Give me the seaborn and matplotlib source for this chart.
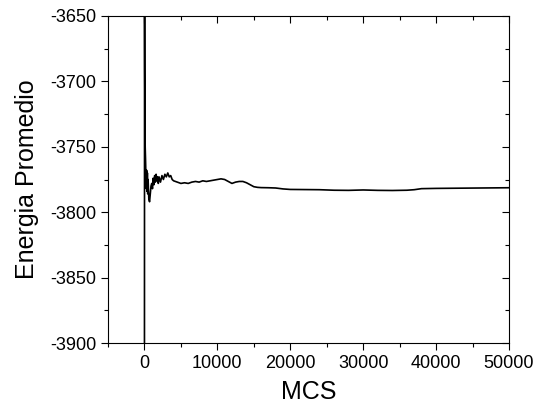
import matplotlib
matplotlib.use("Agg")
import matplotlib.pyplot as plt
from matplotlib.ticker import MultipleLocator
import pandas as pd
import seaborn as sns

# MCS steps and running average energy
mcs = [
    0, 15, 40, 70, 100, 150, 200, 250, 300, 350, 400, 450, 500, 600, 700,
    800, 900, 1000, 1100, 1200, 1300, 1400, 1500, 1600, 1700, 1800, 1900,
    2000, 2200, 2400, 2600, 2800, 3000, 3200, 3400, 3600, 3800, 4000, 4500,
    5000, 5500, 6000, 6500, 7000, 7500, 8000, 8500, 9000, 9500, 10000,
    10500, 11000, 11500, 12000, 12500, 13000, 13500, 14000, 14500, 15000,
    15500, 16000, 17000, 18000, 19000, 20000, 22000, 24000, 26000, 28000,
    30000, 32000, 34000, 36000, 37000, 38000, 40000, 42000, 44000, 46000,
    48000, 50000,
]
energia = [
    -3920, -3620, -3690, -3730, -3750, -3760, -3772, -3782, -3768, -3784,
    -3770, -3786, -3775, -3790, -3792, -3786, -3780, -3778, -3782, -3774,
    -3779, -3772, -3777, -3771, -3776, -3773, -3778, -3773, -3777, -3772,
    -3775, -3771, -3773, -3770, -3773, -3772, -3775, -3776, -3777, -3778,
    -3777.5, -3778, -3777, -3776.5, -3777, -3776, -3776.5, -3776, -3775.5,
    -3775, -3774.5, -3775, -3776.5, -3778, -3777, -3776.5, -3776.5, -3777.5,
    -3779, -3780.5, -3781, -3781.2, -3781.3, -3781.5, -3782.2, -3782.6,
    -3782.7, -3782.8, -3783.2, -3783.3, -3783.0, -3783.3, -3783.4, -3783.2,
    -3782.8, -3782.0, -3781.8, -3781.7, -3781.6, -3781.5, -3781.4, -3781.3,
]

df = pd.DataFrame({"MCS": mcs, "Energia": energia})

sns.set_style("ticks")
plt.rcParams["font.family"] = ["Liberation Sans", "DejaVu Sans"]
plt.rcParams["axes.unicode_minus"] = False
plt.rcParams["text.color"] = "black"
plt.rcParams["axes.labelcolor"] = "black"

fig = plt.figure(figsize=(5.36, 4.08), dpi=100)
ax = fig.add_axes([108 / 536, 1 - 343 / 408, 401 / 536, 327 / 408])

sns.lineplot(data=df, x="MCS", y="Energia", color="black", linewidth=1.2,
             estimator=None, sort=False, ax=ax)

ax.set_xlim(-5000, 50000)
ax.set_ylim(-3900, -3650)
ax.xaxis.set_minor_locator(MultipleLocator(5000))
ax.yaxis.set_major_locator(MultipleLocator(50))
ax.yaxis.set_minor_locator(MultipleLocator(25))
ax.set_xticks([0, 10000, 20000, 30000, 40000, 50000])

ax.tick_params(which="both", direction="out", labelsize=13, width=0.8,
               color="black", labelcolor="black")
ax.tick_params(which="major", length=5)
ax.tick_params(which="minor", length=3)
# inner ticks on the right and top spines, no labels
ax.tick_params(which="both", right=True, top=True, labelright=False,
               labeltop=False)
for t in ax.yaxis.get_ticklines(minor=False)[1::2] + ax.yaxis.get_ticklines(minor=True)[1::2]:
    t.set_marker(0)
for t in ax.xaxis.get_ticklines(minor=False)[1::2] + ax.xaxis.get_ticklines(minor=True)[1::2]:
    t.set_marker(3)
for spine in ax.spines.values():
    spine.set_visible(True)
    spine.set_color("black")
    spine.set_linewidth(0.8)

ax.set_xlabel("MCS", fontsize=18, labelpad=6)
ax.set_ylabel("Energia Promedio", fontsize=18, labelpad=8)

fig.savefig("out.png", dpi=100)
